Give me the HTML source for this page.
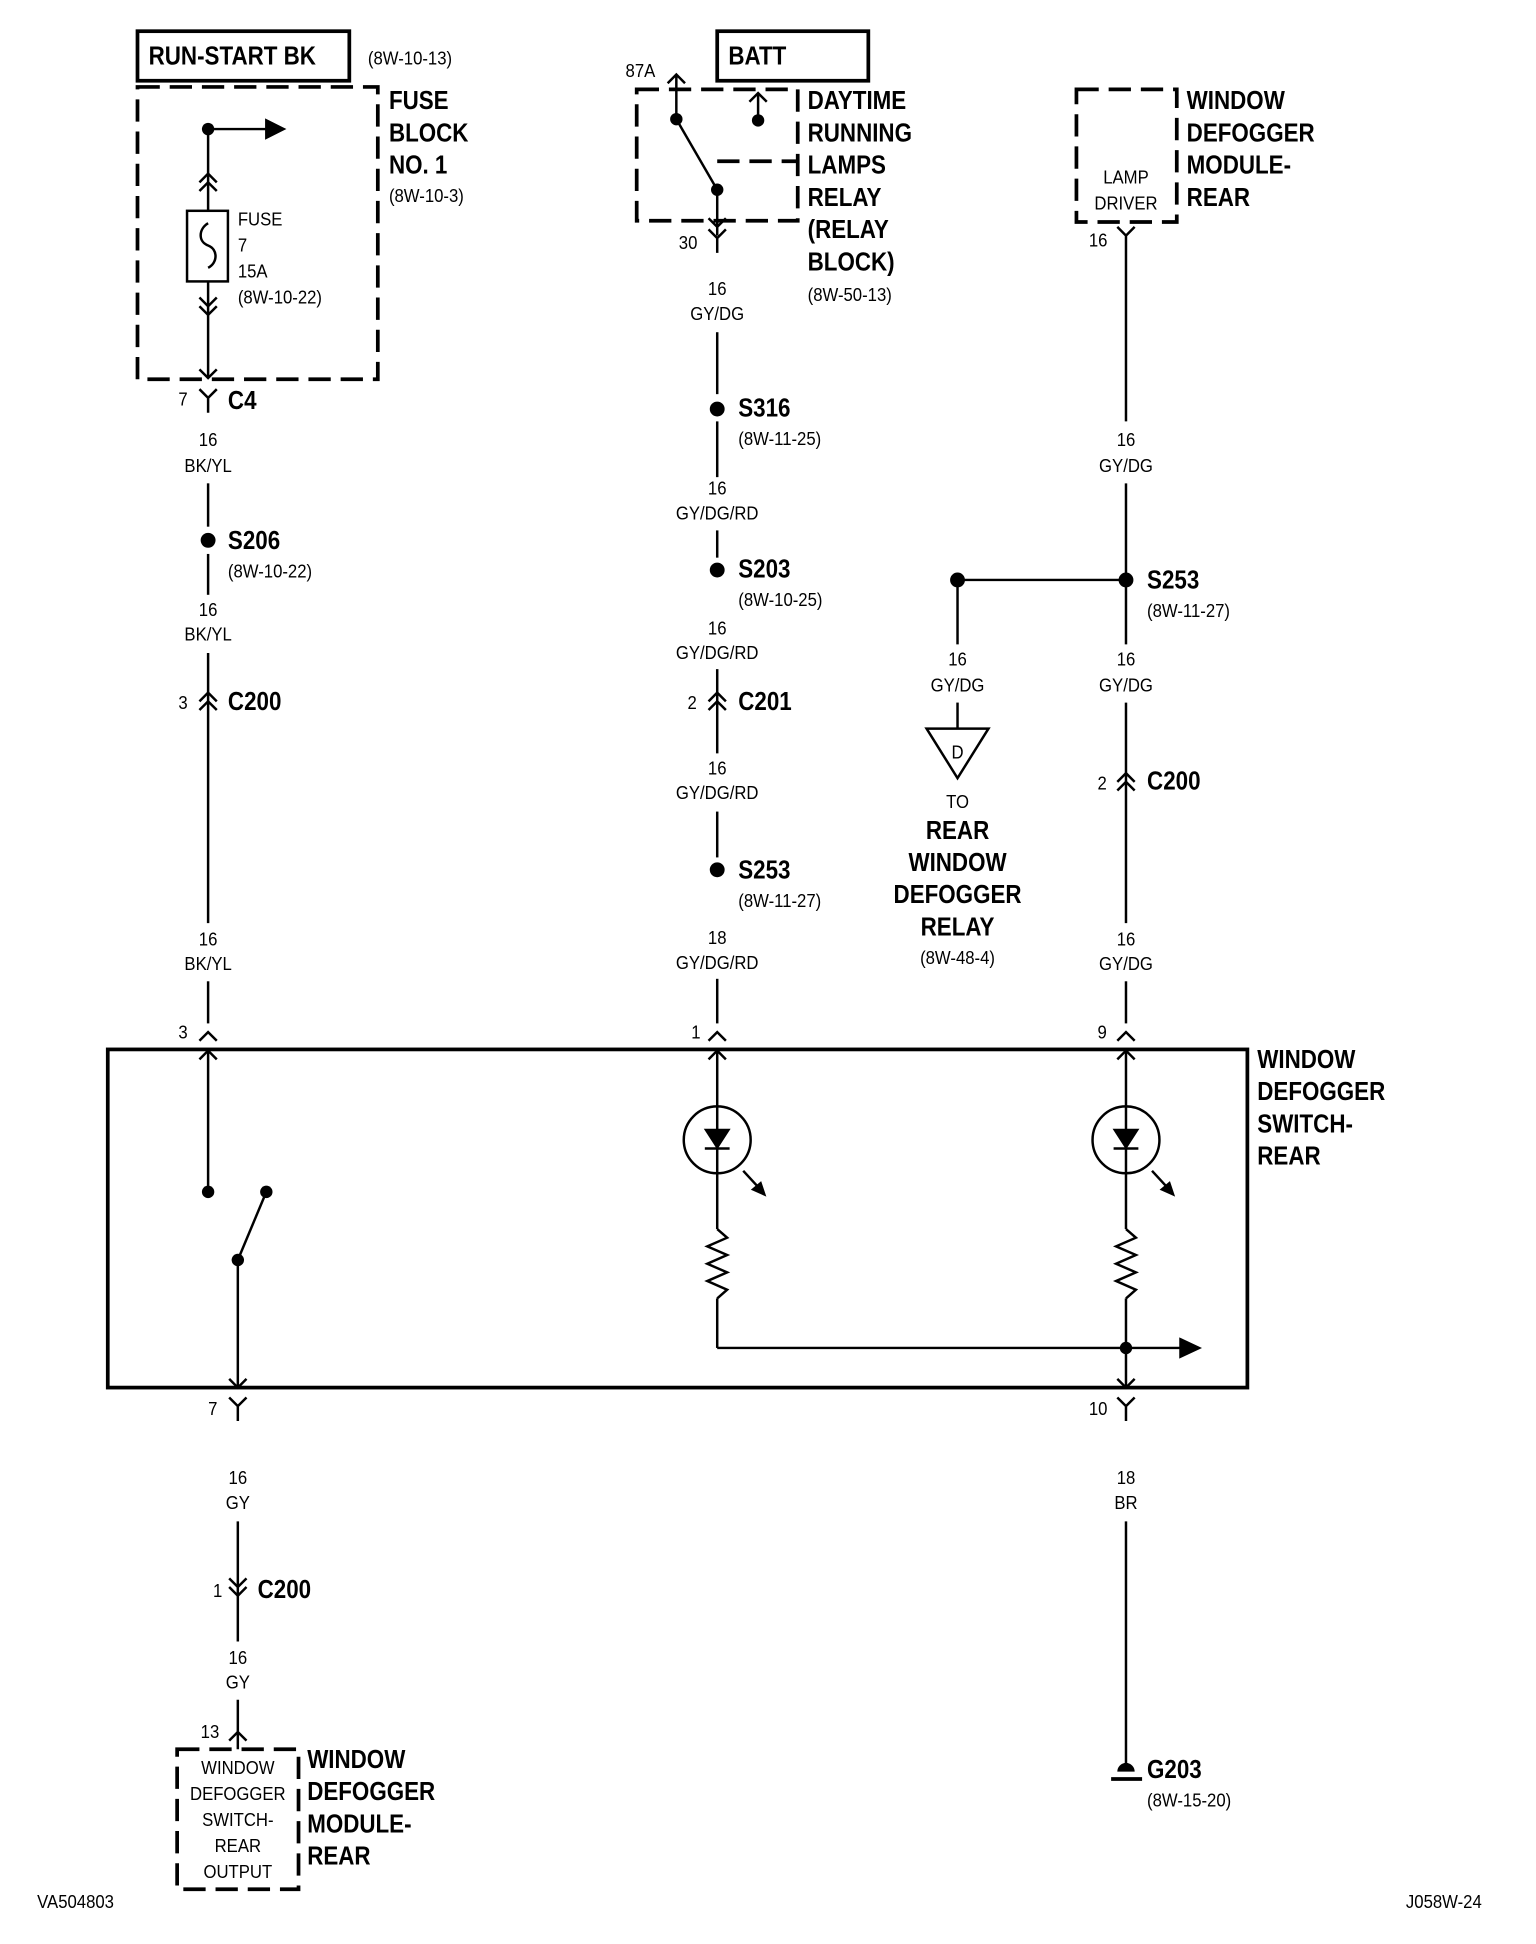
<!DOCTYPE html>
<html><head><meta charset="utf-8"><style>
html,body{margin:0;padding:0;background:#fff;}
svg{display:block}
text{font-family:"Liberation Sans Narrow","Liberation Sans",sans-serif;fill:#000}
.b{font-weight:bold;font-size:21px;transform-box:fill-box;transform-origin:0 0;transform:scaleX(.86)}
.b.c{transform-origin:50% 50%}
.s{font-size:15px;transform-box:fill-box;transform-origin:0 0;transform:scaleX(.9)}
.s.c{transform-origin:50% 50%}
.c{text-anchor:middle}
</style></head><body>
<svg width="1536" height="1944" viewBox="0 0 1240 1569" xmlns="http://www.w3.org/2000/svg">
<g stroke="#000" stroke-width="2" fill="none">
<rect x="111" y="25" width="171" height="40" stroke-width="3"/>
<rect x="111" y="70" width="194" height="236" stroke-width="3" stroke-dasharray="18 8"/>
<line x1="168" y1="104" x2="168" y2="170"/>
<line x1="168" y1="104" x2="215" y2="104"/>
<path d="M215,97 L229,104 L215,111 z" fill="#000"/>
<path d="M161,147 L168,140 L175,147 M161,154 L168,147 L175,154"/>
<rect x="151" y="170" width="33" height="57"/>
<path d="M168,180 C160,185 160,195 168,198 C176,201 176,212 168,216"/>
<line x1="168" y1="227" x2="168" y2="305"/>
<path d="M161,240 L168,247 L175,240 M161,247 L168,254 L175,247"/>
<path d="M161,298 L168,305 L175,298"/>
<path d="M161,314 L168,321 L175,314 M168,321 L168,333"/>
<line x1="168" y1="390" x2="168" y2="425"/>
<line x1="168" y1="447" x2="168" y2="480"/>
<line x1="168" y1="527" x2="168" y2="745"/>
<path d="M161,566 L168,559 L175,566 M161,573 L168,566 L175,573"/>
<line x1="168" y1="792" x2="168" y2="826"/>
<path d="M161,840 L168,833 L175,840"/>
<rect x="87" y="847" width="920" height="273" stroke-width="3"/>
<line x1="168" y1="847" x2="168" y2="962"/>
<path d="M161,855 L168,848 L175,855"/>
<line x1="192" y1="1017" x2="215" y2="962"/>
<line x1="192" y1="1017" x2="192" y2="1120"/>
<path d="M185,1113 L192,1120 L199,1113"/>
<path d="M185,1128 L192,1135 L199,1128 M192,1135 L192,1147"/>
<line x1="192" y1="1228" x2="192" y2="1325"/>
<path d="M185,1274 L192,1281 L199,1274 M185,1281 L192,1288 L199,1281"/>
<line x1="192" y1="1372" x2="192" y2="1398"/>
<path d="M185,1405 L192,1398 L199,1405 M192,1398 L192,1412"/>
<rect x="143" y="1412" width="98" height="113" stroke-width="3" stroke-dasharray="18 8"/>
<rect x="579" y="25" width="122" height="40" stroke-width="3"/>
<rect x="514" y="72" width="130" height="106" stroke-width="3" stroke-dasharray="18 8"/>
<line x1="579" y1="130" x2="644" y2="130" stroke-width="3" stroke-dasharray="18 8"/>
<path d="M539,67 L546,60 L553,67 M546,60 L546,96"/>
<path d="M605,82 L612,75 L619,82 M612,75 L612,97"/>
<line x1="546" y1="96" x2="579" y2="153"/>
<line x1="579" y1="153" x2="579" y2="190"/>
<path d="M572,176 L579,183 L586,176"/>
<path d="M572,185 L579,192 L586,185 M579,192 L579,204"/>
<line x1="579" y1="268" x2="579" y2="318"/>
<line x1="579" y1="340" x2="579" y2="385"/>
<line x1="579" y1="428" x2="579" y2="450"/>
<line x1="579" y1="540" x2="579" y2="608"/>
<path d="M572,566 L579,559 L586,566 M572,573 L579,566 L586,573"/>
<line x1="579" y1="655" x2="579" y2="692"/>
<line x1="579" y1="790" x2="579" y2="826"/>
<path d="M572,840 L579,833 L586,840"/>
<line x1="579" y1="847" x2="579" y2="893"/>
<path d="M572,855 L579,848 L586,855"/>
<circle cx="579" cy="920" r="27"/>
<path d="M570,912 L588,912 L579,926 z" fill="#000"/>
<line x1="569" y1="927" x2="589" y2="927"/>
<line x1="579" y1="893" x2="579" y2="912"/>
<line x1="579" y1="927" x2="579" y2="992"/>
<path d="M579,992 L587,999 L571,1006 L587,1013 L571,1020 L587,1027 L571,1034 L587,1041 L579,1048"/>
<line x1="579" y1="1048" x2="579" y2="1088"/>
<line x1="579" y1="1088" x2="955" y2="1088"/>
<path d="M953,1081 L968,1088 L953,1095 z" fill="#000"/>
<line x1="600" y1="945" x2="612" y2="958"/>
<path d="M608,960 L617,964 L614,955 z" fill="#000"/>
<rect x="869" y="72" width="81" height="107" stroke-width="3" stroke-dasharray="18 8"/>
<path d="M902,183 L909,190 L916,183 M909,190 L909,340"/>
<line x1="909" y1="390" x2="909" y2="520"/>
<line x1="773" y1="468" x2="909" y2="468"/>
<line x1="773" y1="468" x2="773" y2="520"/>
<line x1="773" y1="567" x2="773" y2="588"/>
<path d="M748,588 L798,588 L773,628 z"/>
<line x1="909" y1="567" x2="909" y2="745"/>
<path d="M902,631 L909,624 L916,631 M902,638 L909,631 L916,638"/>
<line x1="909" y1="792" x2="909" y2="826"/>
<path d="M902,840 L909,833 L916,840"/>
<line x1="909" y1="847" x2="909" y2="893"/>
<path d="M902,855 L909,848 L916,855"/>
<circle cx="909" cy="920" r="27"/>
<path d="M900,912 L918,912 L909,926 z" fill="#000"/>
<line x1="899" y1="927" x2="919" y2="927"/>
<line x1="909" y1="893" x2="909" y2="912"/>
<line x1="909" y1="927" x2="909" y2="992"/>
<path d="M909,992 L917,999 L901,1006 L917,1013 L901,1020 L917,1027 L901,1034 L917,1041 L909,1048"/>
<line x1="909" y1="1048" x2="909" y2="1120"/>
<path d="M902,1113 L909,1120 L916,1113"/>
<line x1="930" y1="945" x2="942" y2="958"/>
<path d="M938,960 L947,964 L944,955 z" fill="#000"/>
<path d="M902,1128 L909,1135 L916,1128 M909,1135 L909,1147"/>
<line x1="909" y1="1228" x2="909" y2="1428"/>
<line x1="897" y1="1436" x2="922" y2="1436" stroke-width="3"/>
</g>
<g fill="#000">
<circle cx="168" cy="104" r="5"/>
<circle cx="168" cy="436" r="6"/>
<circle cx="168" cy="962" r="5"/>
<circle cx="215" cy="962" r="5"/>
<circle cx="192" cy="1017" r="5"/>
<circle cx="546" cy="96" r="5"/>
<circle cx="612" cy="97" r="5"/>
<circle cx="579" cy="153" r="5"/>
<circle cx="579" cy="330" r="6"/>
<circle cx="579" cy="460" r="6"/>
<circle cx="579" cy="702" r="6"/>
<circle cx="909" cy="468" r="6"/>
<circle cx="773" cy="468" r="6"/>
<circle cx="909" cy="1088" r="5"/>
<path d="M902,1430 a7,7 0 0 1 14,0 z"/>
</g>
<text class="b" x="120" y="52">RUN-START BK</text>
<text class="s" x="297" y="52">(8W-10-13)</text>
<text class="b" x="314" y="88">FUSE</text>
<text class="b" x="314" y="114">BLOCK</text>
<text class="b" x="314" y="140">NO. 1</text>
<text class="s" x="314" y="163">(8W-10-3)</text>
<text class="s" x="192" y="182">FUSE</text>
<text class="s" x="192" y="203">7</text>
<text class="s" x="192" y="224">15A</text>
<text class="s" x="192" y="245">(8W-10-22)</text>
<text class="s" x="144" y="327">7</text>
<text class="b" x="184" y="330">C4</text>
<text class="s c" x="168" y="360">16</text>
<text class="s c" x="168" y="381">BK/YL</text>
<text class="b" x="184" y="443">S206</text>
<text class="s" x="184" y="466">(8W-10-22)</text>
<text class="s c" x="168" y="497">16</text>
<text class="s c" x="168" y="517">BK/YL</text>
<text class="s" x="144" y="572">3</text>
<text class="b" x="184" y="573">C200</text>
<text class="s c" x="168" y="763">16</text>
<text class="s c" x="168" y="783">BK/YL</text>
<text class="s" x="144" y="838">3</text>
<text class="s" x="168" y="1142">7</text>
<text class="s c" x="192" y="1198">16</text>
<text class="s c" x="192" y="1218">GY</text>
<text class="s" x="172" y="1289">1</text>
<text class="b" x="208" y="1290">C200</text>
<text class="s c" x="192" y="1343">16</text>
<text class="s c" x="192" y="1363">GY</text>
<text class="s" x="162" y="1403">13</text>
<text class="s c" x="192" y="1432">WINDOW</text>
<text class="s c" x="192" y="1453">DEFOGGER</text>
<text class="s c" x="192" y="1474">SWITCH-</text>
<text class="s c" x="192" y="1495">REAR</text>
<text class="s c" x="192" y="1516">OUTPUT</text>
<text class="b" x="248" y="1427">WINDOW</text>
<text class="b" x="248" y="1453">DEFOGGER</text>
<text class="b" x="248" y="1479">MODULE-</text>
<text class="b" x="248" y="1505">REAR</text>
<text class="s" x="30" y="1540">VA504803</text>
<text class="s" x="1135" y="1540">J058W-24</text>
<text class="b" x="588" y="52">BATT</text>
<text class="s" x="505" y="62">87A</text>
<text class="s" x="548" y="201">30</text>
<text class="b" x="652" y="88">DAYTIME</text>
<text class="b" x="652" y="114">RUNNING</text>
<text class="b" x="652" y="140">LAMPS</text>
<text class="b" x="652" y="166">RELAY</text>
<text class="b" x="652" y="192">(RELAY</text>
<text class="b" x="652" y="218">BLOCK)</text>
<text class="s" x="652" y="243">(8W-50-13)</text>
<text class="s c" x="579" y="238">16</text>
<text class="s c" x="579" y="258">GY/DG</text>
<text class="b" x="596" y="336">S316</text>
<text class="s" x="596" y="359">(8W-11-25)</text>
<text class="s c" x="579" y="399">16</text>
<text class="s c" x="579" y="419">GY/DG/RD</text>
<text class="b" x="596" y="466">S203</text>
<text class="s" x="596" y="489">(8W-10-25)</text>
<text class="s c" x="579" y="512">16</text>
<text class="s c" x="579" y="532">GY/DG/RD</text>
<text class="s" x="555" y="572">2</text>
<text class="b" x="596" y="573">C201</text>
<text class="s c" x="579" y="625">16</text>
<text class="s c" x="579" y="645">GY/DG/RD</text>
<text class="b" x="596" y="709">S253</text>
<text class="s" x="596" y="732">(8W-11-27)</text>
<text class="s c" x="579" y="762">18</text>
<text class="s c" x="579" y="782">GY/DG/RD</text>
<text class="s" x="558" y="838">1</text>
<text class="s c" x="909" y="148">LAMP</text>
<text class="s c" x="909" y="169">DRIVER</text>
<text class="s" x="879" y="199">16</text>
<text class="b" x="958" y="88">WINDOW</text>
<text class="b" x="958" y="114">DEFOGGER</text>
<text class="b" x="958" y="140">MODULE-</text>
<text class="b" x="958" y="166">REAR</text>
<text class="s c" x="909" y="360">16</text>
<text class="s c" x="909" y="381">GY/DG</text>
<text class="b" x="926" y="475">S253</text>
<text class="s" x="926" y="498">(8W-11-27)</text>
<text class="s c" x="773" y="537">16</text>
<text class="s c" x="773" y="558">GY/DG</text>
<text class="s c" x="909" y="537">16</text>
<text class="s c" x="909" y="558">GY/DG</text>
<text class="s c" x="773" y="612">D</text>
<text class="s c" x="773" y="652">TO</text>
<text class="b c" x="773" y="677">REAR</text>
<text class="b c" x="773" y="703">WINDOW</text>
<text class="b c" x="773" y="729">DEFOGGER</text>
<text class="b c" x="773" y="755">RELAY</text>
<text class="s c" x="773" y="778">(8W-48-4)</text>
<text class="s" x="886" y="637">2</text>
<text class="b" x="926" y="637">C200</text>
<text class="s c" x="909" y="763">16</text>
<text class="s c" x="909" y="783">GY/DG</text>
<text class="s" x="886" y="838">9</text>
<text class="b" x="1015" y="862">WINDOW</text>
<text class="b" x="1015" y="888">DEFOGGER</text>
<text class="b" x="1015" y="914">SWITCH-</text>
<text class="b" x="1015" y="940">REAR</text>
<text class="s" x="879" y="1142">10</text>
<text class="s c" x="909" y="1198">18</text>
<text class="s c" x="909" y="1218">BR</text>
<text class="b" x="926" y="1435">G203</text>
<text class="s" x="926" y="1458">(8W-15-20)</text>
</svg>
</body></html>
